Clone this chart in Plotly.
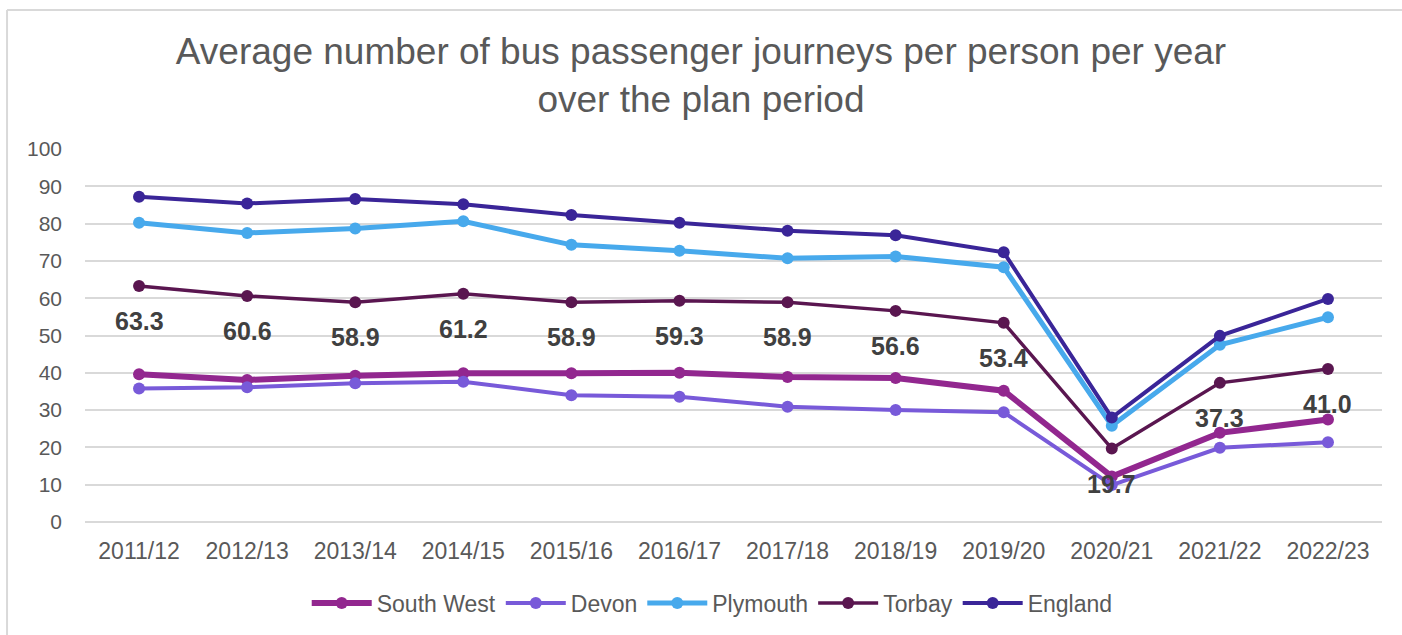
import plotly.graph_objects as go

# Financial years on the category axis
years = ["2011/12", "2012/13", "2013/14", "2014/15", "2015/16", "2016/17",
         "2017/18", "2018/19", "2019/20", "2020/21", "2021/22", "2022/23"]

# Bus passenger journeys per person per year
south_west = [39.6, 38.1, 39.2, 39.9, 39.9, 40.0, 38.9, 38.6, 35.2, 12.2, 23.9, 27.5]
devon = [35.8, 36.1, 37.2, 37.6, 34.0, 33.6, 30.9, 30.0, 29.4, 9.9, 19.9, 21.4]
plymouth = [80.2, 77.5, 78.7, 80.6, 74.3, 72.7, 70.7, 71.2, 68.3, 25.8, 47.5, 54.9]
torbay = [63.3, 60.6, 58.9, 61.2, 58.9, 59.3, 58.9, 56.6, 53.4, 19.7, 37.3, 41.0]
england = [87.2, 85.4, 86.6, 85.2, 82.3, 80.2, 78.1, 76.9, 72.3, 28.0, 49.9, 59.8]

FONT = "Liberation Sans, Arial, sans-serif"

series = [
    ("South West", south_west, "#92278F", 6),
    ("Devon", devon, "#785AD9", 4),
    ("Plymouth", plymouth, "#47A9EC", 5),
    ("Torbay", torbay, "#5A1650", 3.5),
    ("England", england, "#3A2598", 4),
]

fig = go.Figure()
for name, vals, color, width in series:
    fig.add_trace(go.Scatter(
        x=years, y=vals, name=name, mode="lines+markers",
        line=dict(color=color, width=width),
        marker=dict(color=color, size=12),
    ))

# Torbay values written beneath each point
for yr, v in zip(years, torbay):
    fig.add_annotation(
        x=yr, y=v, text=f"{v:.1f}", showarrow=False, yshift=-35,
        font=dict(family=FONT, size=25, color="#404040", weight="bold"),
    )

# Outer chart frame (top and left edges)
fig.add_shape(type="line", xref="paper", yref="paper",
              x0=-0.0601, x1=1.1, y0=1.3727, y1=1.3727,
              line=dict(color="#D9D9D9", width=2))
fig.add_shape(type="line", xref="paper", yref="paper",
              x0=-0.0601, x1=-0.0601, y0=-0.4, y1=1.3727,
              line=dict(color="#D9D9D9", width=2))

fig.update_layout(
    width=1402, height=635,
    margin=dict(l=85, r=20, t=149, b=113),
    paper_bgcolor="white", plot_bgcolor="white",
    font=dict(family=FONT, color="#595959"),
    title=dict(
        text="Average number of bus passenger journeys per person per year<br>over the plan period",
        x=0.5, xref="container", xanchor="center",
        y=1 - 64 / 635, yref="container", yanchor="middle",
        font=dict(family=FONT, size=37, color="#595959"),
    ),
    xaxis=dict(
        type="category", range=[-0.5, 11.5], showgrid=False,
        showline=False, ticks="", ticklabelstandoff=13,
        tickfont=dict(size=23, color="#595959"),
    ),
    yaxis=dict(
        range=[0, 100], dtick=10, showgrid=True, gridcolor="#D9D9D9",
        gridwidth=1.5, zeroline=True, zerolinecolor="#D9D9D9", zerolinewidth=1.5,
        ticks="", ticklabelstandoff=22,
        tickfont=dict(size=21, color="#595959"),
    ),
    legend=dict(
        orientation="h", xref="container", x=0.508, xanchor="center",
        yref="container", y=1 - 603 / 635, yanchor="middle",
        font=dict(family=FONT, size=23, color="#595959"),
        itemwidth=60, entrywidthmode="pixels",
    ),
)

fig.write_html("out.html")
